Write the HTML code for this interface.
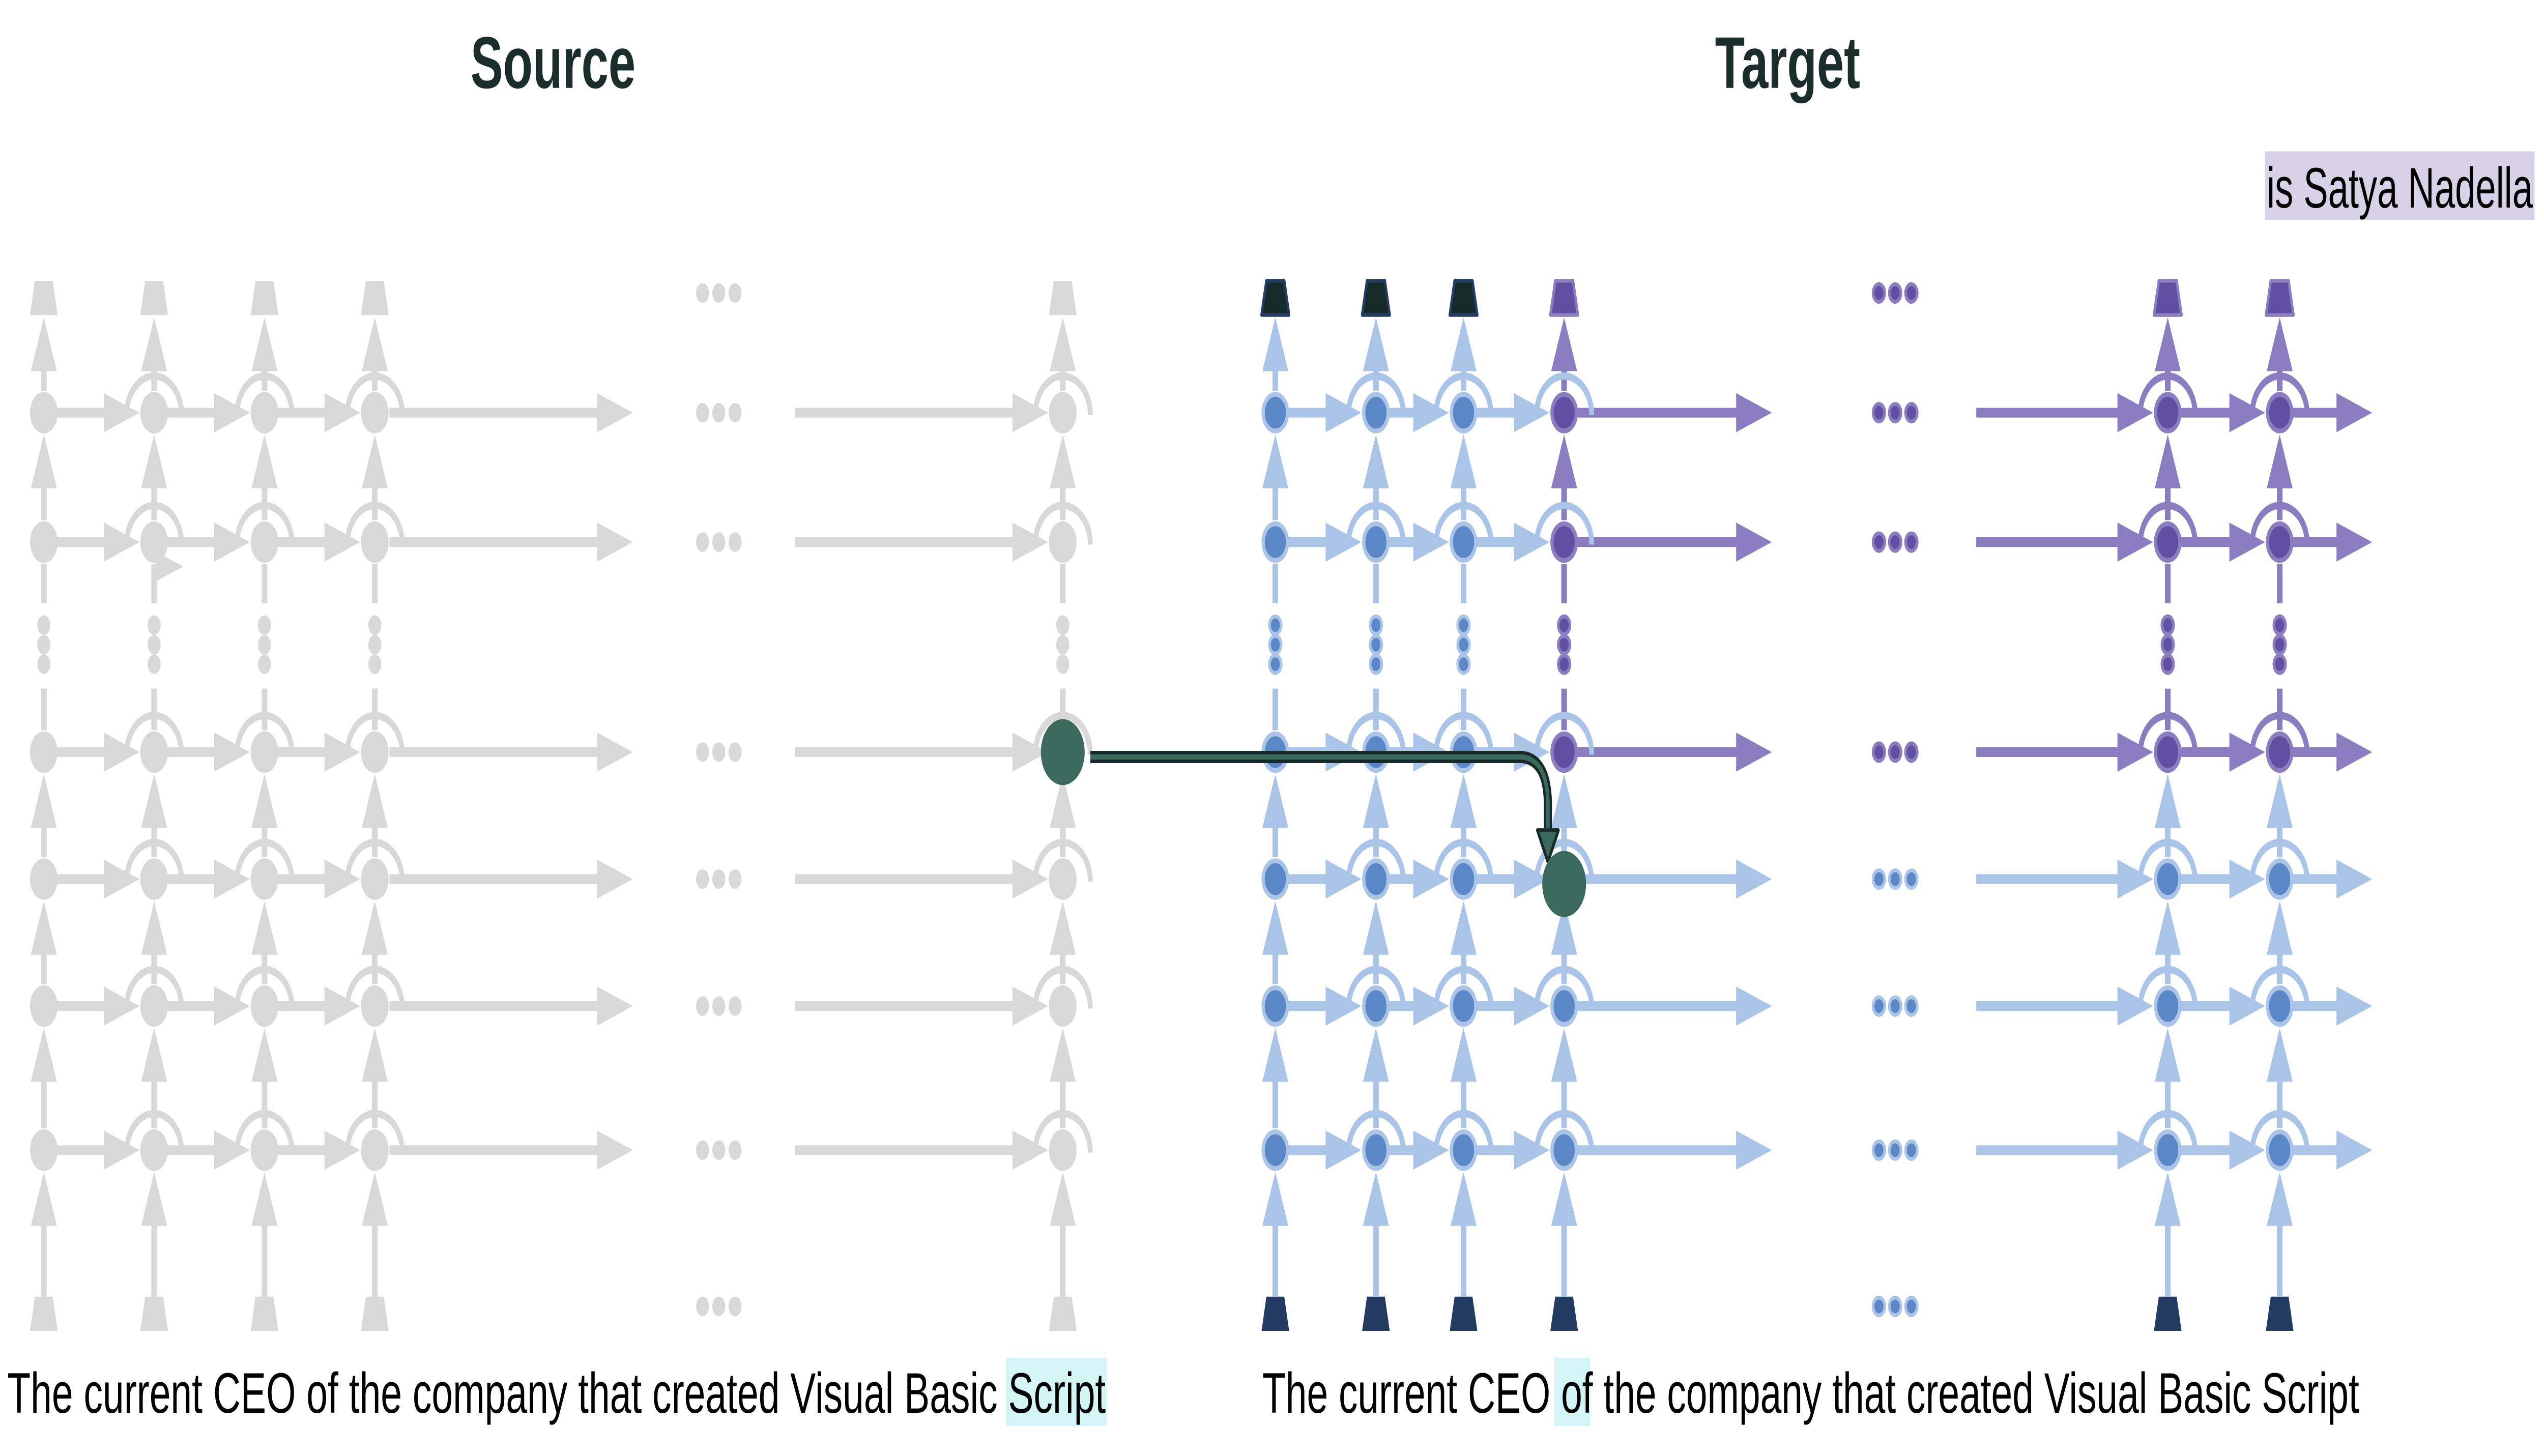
<!DOCTYPE html>
<html><head><meta charset="utf-8"><style>
html,body{margin:0;padding:0;background:#fff;width:100%;height:100%;overflow:hidden;}
svg{display:block;width:100vw;height:100vh;}
</style></head><body>
<svg id="s" xmlns="http://www.w3.org/2000/svg" viewBox="0 0 1567.9 596.25" preserveAspectRatio="none">
<rect width="1567.9" height="596.25" fill="#fff"/>
<g id="g"></g>
<text x="290" y="36" font-family="Liberation Sans, sans-serif" font-weight="bold" font-size="30" fill="#1a2d2a">Source</text>
<text x="1057" y="36" font-family="Liberation Sans, sans-serif" font-weight="bold" font-size="30" fill="#1a2d2a">Target</text>
<rect x="1396" y="62" width="166" height="28" fill="#d7d2e8"/>
<text x="1397" y="85" font-family="Liberation Sans, sans-serif" font-size="23.5" fill="#000" textLength="164" lengthAdjust="spacingAndGlyphs">is Satya Nadella</text>
<rect x="620" y="556" width="62" height="28" fill="#d3f5f4"/>
<text x="4.5" y="578.5" font-family="Liberation Sans, sans-serif" font-size="23.5" fill="#000" textLength="677" lengthAdjust="spacingAndGlyphs">The current CEO of the company that created Visual Basic Script</text>
<rect x="958" y="556" width="22" height="28" fill="#d3f5f4"/>
<text x="778" y="578.5" font-family="Liberation Sans, sans-serif" font-size="23.5" fill="#000" textLength="676" lengthAdjust="spacingAndGlyphs">The current CEO of the company that created Visual Basic Script</text>
</svg>
<script>
(function(){
var g=document.getElementById('g'),out=[];
function add(s){out.push(s);}
var GR='#d8d8d8',LB='#aac4e8',NB='#5b87c6',PL='#8a7ec0',PN='#6150a2',GN='#3b6a5d',DK='#172a29';
function harrow(x1,x2,y,c){add('<line x1="'+x1+'" y1="'+y+'" x2="'+(x2-20)+'" y2="'+y+'" stroke="'+c+'" stroke-width="4"/>');
 add('<polygon points="'+(x2-22)+','+(y-8)+' '+x2+','+y+' '+(x2-22)+','+(y+8)+'" fill="'+c+'"/>');}
function varrow(x,yb,yt,c){add('<line x1="'+x+'" y1="'+yb+'" x2="'+x+'" y2="'+(yt+20)+'" stroke="'+c+'" stroke-width="3.5"/>');
 add('<polygon points="'+(x-8)+','+(yt+22)+' '+x+','+yt+' '+(x+8)+','+(yt+22)+'" fill="'+c+'"/>');}
function vline(x,y1,y2,c){add('<line x1="'+x+'" y1="'+y1+'" x2="'+x+'" y2="'+y2+'" stroke="'+c+'" stroke-width="3.5"/>');}
function node(x,y,f,s){ if(s) add('<circle cx="'+x+'" cy="'+y+'" r="7.5" fill="'+f+'" stroke="'+s+'" stroke-width="2"/>');
 else add('<circle cx="'+x+'" cy="'+y+'" r="8.5" fill="'+f+'"/>');}
function arc(x,y,c){add('<path d="M'+(x-17)+' '+(y+1)+' A17 16 0 0 1 '+(x+17)+' '+(y+1)+'" fill="none" stroke="'+c+'" stroke-width="3"/>');}
function trap(x,yt,f,s){add('<polygon points="'+(x-5.5)+','+yt+' '+(x+5.5)+','+yt+' '+(x+8.5)+','+(yt+14)+' '+(x-8.5)+','+(yt+14)+'" fill="'+f+'"'+(s?' stroke="'+s+'" stroke-width="1.5" stroke-linejoin="round"':'')+'/>');}
function dot(x,y,f,s){ if(s) add('<circle cx="'+x+'" cy="'+y+'" r="3.6" fill="'+f+'" stroke="'+s+'" stroke-width="1.6"/>');
 else add('<circle cx="'+x+'" cy="'+y+'" r="4" fill="'+f+'"/>');}
var R=[169,222,308,360,412,471];
function column(x,cs,trTop,trBot){
 trap(x,531,trBot[0],trBot[1]);
 varrow(x,531,480,cs[0]); varrow(x,462,421,cs[1]); varrow(x,403,369,cs[2]); varrow(x,351,317,cs[3]);
 vline(x,299,282,cs[4]);
 dot(x,256,cs[5][0],cs[5][1]);dot(x,264,cs[5][0],cs[5][1]);dot(x,272,cs[5][0],cs[5][1]);
 vline(x,231,247,cs[6]);
 varrow(x,213,178,cs[7]); varrow(x,160,130,cs[8]);
 trap(x,115,trTop[0],trTop[1]);
}
var SC=[27,95,163,231,655];
var gs=[GR,GR,GR,GR,GR,[GR,null],GR,GR,GR];
SC.forEach(function(x){column(x,gs,[GR,null],[GR,null]);});
R.forEach(function(y){
 for(var i=0;i<3;i++) harrow(SC[i]+8,SC[i+1]-9,y,GR);
 harrow(240,390,y,GR);
 dot(433,y,GR);dot(443,y,GR);dot(453,y,GR);
 harrow(490,646,y,GR);
 [95,163,231,655].forEach(function(x){arc(x,y,GR);});
 SC.forEach(function(x){ if(!(x==655&&y==308)) node(x,y,GR);});
});
[120,535].forEach(function(y){dot(433,y,GR);dot(443,y,GR);dot(453,y,GR);});
add('<polygon points="96,226 113,232 96,238" fill="'+GR+'"/>');
var TC=[786,848,902,964,1336,1405];
var NAV=['#233a63',null];
TC.forEach(function(x,i){
 var purple = i>=3;
 var cs=[LB,LB,LB,LB, purple?PL:LB, purple?[PN,PL]:[NB,LB], purple?PL:LB, purple?PL:LB, purple?PL:LB];
 var tt = purple?[PN,PL]:[DK,'#243c63'];
 column(x,cs,tt,NAV);
});
R.forEach(function(y,ri){
 var top=ri<3, C=top?PL:LB;
 for(var i=0;i<3;i++) harrow(TC[i]+8,TC[i+1]-9,y,LB);
 harrow(972,1092,y,C);
 var df=top?[PN,PL]:[NB,LB];
 dot(1158,y,df[0],df[1]);dot(1168,y,df[0],df[1]);dot(1178,y,df[0],df[1]);
 harrow(1218,1327,y,C);
 harrow(1344,1396,y,C);
 harrow(1413,1462,y,C);
 [848,902,964].forEach(function(x){arc(x,y,LB);});
 [1336,1405].forEach(function(x){arc(x,y,C);});
 TC.forEach(function(x,i){
  if(x==964&&y==360) return;
  if(i>=3&&top) node(x,y,PN,PL); else node(x,y,NB,LB);
 });
});
[[1158,120,PN,PL],[1168,120,PN,PL],[1178,120,PN,PL],[1158,535,NB,LB],[1168,535,NB,LB],[1178,535,NB,LB]].forEach(function(d){dot(d[0],d[1],d[2],d[3]);});
add('<circle cx="655" cy="308" r="13.5" fill="'+GN+'"/>');
add('<path d="M672 310 L938 310 Q954 311 954 330 L954 342" fill="none" stroke="'+DK+'" stroke-width="5"/>');
add('<path d="M672 310 L938 310 Q954 311 954 330 L954 342" fill="none" stroke="'+GN+'" stroke-width="2.2"/>');
add('<polygon points="947.5,340 960.5,340 954,353" fill="'+GN+'" stroke="'+DK+'" stroke-width="1.6" stroke-linejoin="round"/>');
add('<circle cx="964" cy="362" r="13.5" fill="'+GN+'"/>');
g.innerHTML=out.join('');
})();
</script>
</body></html>
